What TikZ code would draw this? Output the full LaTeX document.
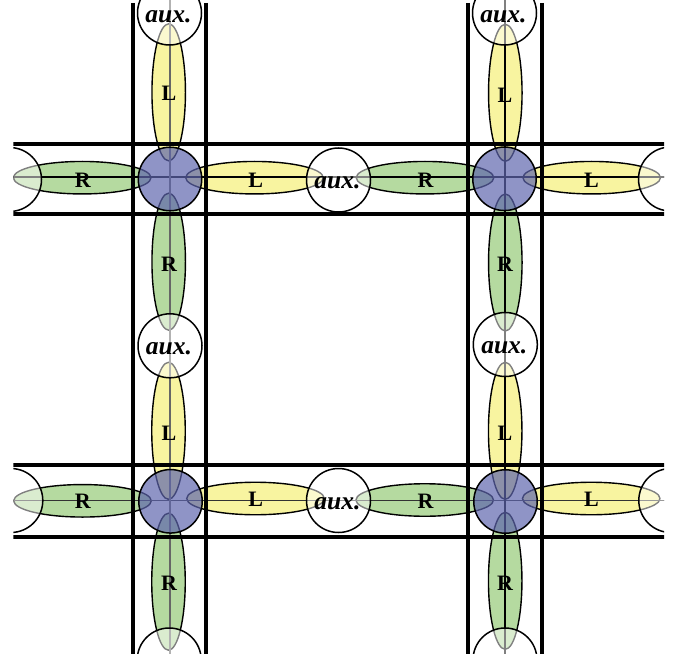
\documentclass[tikz,border=0pt]{standalone}
\usepackage{fontspec}
\setmainfont{Liberation Serif}
\usetikzlibrary{shapes.geometric}
\definecolor{hubblue}{RGB}{95,102,174}
\definecolor{rgreen}{RGB}{181,218,160}
\definecolor{lyellow}{RGB}{248,244,160}
\tikzset{
  hell/.style={ellipse, draw=black, line width=1.4pt, minimum width=137.5pt, minimum height=32.5pt, inner sep=0pt},
  vell/.style={ellipse, draw=black, line width=1.4pt, minimum width=33.5pt, minimum height=137pt, inner sep=0pt},
  lfill/.style={fill=lyellow},
  rfill/.style={fill=rgreen},
  hub/.style={circle, draw=black, line width=1.5pt, fill=hubblue, fill opacity=0.7, draw opacity=1, minimum size=63.5pt, inner sep=0pt},
  auxc/.style={circle, draw=black, line width=1.5pt, fill=white, fill opacity=0.5, draw opacity=1, minimum size=64pt, inner sep=0pt},
  lbl/.style={font=\fontsize{22}{24}\selectfont\bfseries, inner sep=0pt},
  auxlbl/.style={font=\fontsize{25.5}{28}\selectfont\bfseries\itshape, inner sep=0pt},
  barline/.style={line width=4pt},
  axisline/.style={line width=1.3pt}
}
\begin{document}
\begin{tikzpicture}[x=1pt, y=-1pt]
\useasboundingbox (0,0) rectangle (679,660);
\begin{scope}
\clip (13.3,0) rectangle (664,653);
% ellipses, row 1 horizontal
\node[hell, rfill] (r1a) at (82.2,177.7) {};
\node[hell, lfill] (l1a) at (254.5,177.7) {};
\node[hell, rfill] (r1b) at (425,177.7) {};
\node[hell, lfill] (l1b) at (591.7,177.7) {};
% row 2 horizontal
\node[hell, rfill] (r2a) at (82.5,500.8) {};
\node[hell, lfill] (l2a) at (255.5,498.5) {};
\node[hell, rfill] (r2b) at (424.7,500) {};
\node[hell, lfill] (l2b) at (591.2,498.5) {};
% vertical col 1
\node[vell, lfill] (vl1a) at (168.7,92.3) {};
\node[vell, rfill] (vr1a) at (168.7,261.7) {};
\node[vell, lfill] (vl2a) at (168.5,430.8) {};
\node[vell, rfill] (vr2a) at (168.5,581.7) {};
% vertical col 2
\node[vell, lfill] (vl1b) at (505.3,92.8) {};
\node[vell, rfill] (vr1b) at (505.3,262.5) {};
\node[vell, lfill] (vl2b) at (505.2,430.8) {};
\node[vell, rfill] (vr2b) at (505.2,580.8) {};
% axis lines
\coordinate (ha1) at (0,177);
\coordinate (hb1) at (679,177);
\coordinate (ha2) at (0,500.7);
\coordinate (hb2) at (679,500.7);
\coordinate (va1) at (170,0);
\coordinate (vb1) at (170,660);
\coordinate (va2) at (505,0);
\coordinate (vb2) at (505,660);
\draw[axisline, black] (ha1) -- (hb1);
\draw[axisline, black!80] (ha2) -- (hb2);
\draw[axisline, black!60] (va1) -- (vb1);
\draw[axisline, black] (va2) -- (vb2);
% hubs
\node[hub] (h11) at (170,179) {};
\node[hub] (h12) at (504.5,178.8) {};
\node[hub] (h21) at (170.5,501.3) {};
\node[hub] (h22) at (505.5,501.5) {};
% aux circles
\node[auxc] (at1) at (169.5,13) {};
\node[auxc] (at2) at (504.5,13) {};
\node[auxc] (ar1w) at (9.5,179.5) {};
\node[auxc] (ar1m) at (338.5,180) {};
\node[auxc] (ar1e) at (670.5,179) {};
\node[auxc] (am1) at (170,345.8) {};
\node[auxc] (am2) at (505.3,344.5) {};
\node[auxc] (ar2w) at (10.8,500.5) {};
\node[auxc] (ar2m) at (338.5,500.5) {};
\node[auxc] (ar2e) at (670.8,500.5) {};
\node[auxc] (ab1) at (169.2,660) {};
\node[auxc] (ab2) at (505,660) {};
% thick lines
\coordinate (t1a) at (0,144);   \coordinate (t1b) at (679,144);
\coordinate (t2a) at (0,214.3); \coordinate (t2b) at (679,214.3);
\coordinate (t3a) at (0,465);   \coordinate (t3b) at (679,465);
\coordinate (t4a) at (0,537.3); \coordinate (t4b) at (679,537.3);
\coordinate (s1a) at (133.3,3); \coordinate (s1b) at (133.3,660);
\coordinate (s2a) at (206,3);   \coordinate (s2b) at (206,660);
\coordinate (s3a) at (467.7,3); \coordinate (s3b) at (467.7,660);
\coordinate (s4a) at (541.7,3); \coordinate (s4b) at (541.7,660);
\draw[barline] (t1a) -- (t1b);
\draw[barline] (t2a) -- (t2b);
\draw[barline] (t3a) -- (t3b);
\draw[barline] (t4a) -- (t4b);
\draw[barline] (s1a) -- (s1b);
\draw[barline] (s2a) -- (s2b);
\draw[barline] (s3a) -- (s3b);
\draw[barline] (s4a) -- (s4b);
% labels
\node[lbl] (tr1a) at (82.8,180) {R};
\node[lbl] (tl1a) at (255.7,180) {L};
\node[lbl] (tr1b) at (425.5,180) {R};
\node[lbl] (tl1b) at (591.5,180) {L};
\node[lbl] (tr2a) at (82.8,501.5) {R};
\node[lbl] (tl2a) at (255.7,499.5) {L};
\node[lbl] (tr2b) at (425.5,501.5) {R};
\node[lbl] (tl2b) at (591.5,499.5) {L};
\node[lbl] (tvl1a) at (169,93.5) {L};
\node[lbl] (tvr1a) at (169,264) {R};
\node[lbl] (tvl2a) at (169,433) {L};
\node[lbl] (tvr2a) at (169,583.3) {R};
\node[lbl] (tvl1b) at (505,95) {L};
\node[lbl] (tvr1b) at (505,264) {R};
\node[lbl] (tvl2b) at (505,433) {L};
\node[lbl] (tvr2b) at (505,583.3) {R};
\node[auxlbl] (xat1) at (168.5,16.5) {aux.};
\node[auxlbl] (xat2) at (503.5,16.5) {aux.};
\node[auxlbl] (xar1m) at (337.5,183) {aux.};
\node[auxlbl] (xam1) at (169,349) {aux.};
\node[auxlbl] (xam2) at (504.3,347.5) {aux.};
\node[auxlbl] (xar2m) at (337.5,503.5) {aux.};
\end{scope}
\end{tikzpicture}
\end{document}
